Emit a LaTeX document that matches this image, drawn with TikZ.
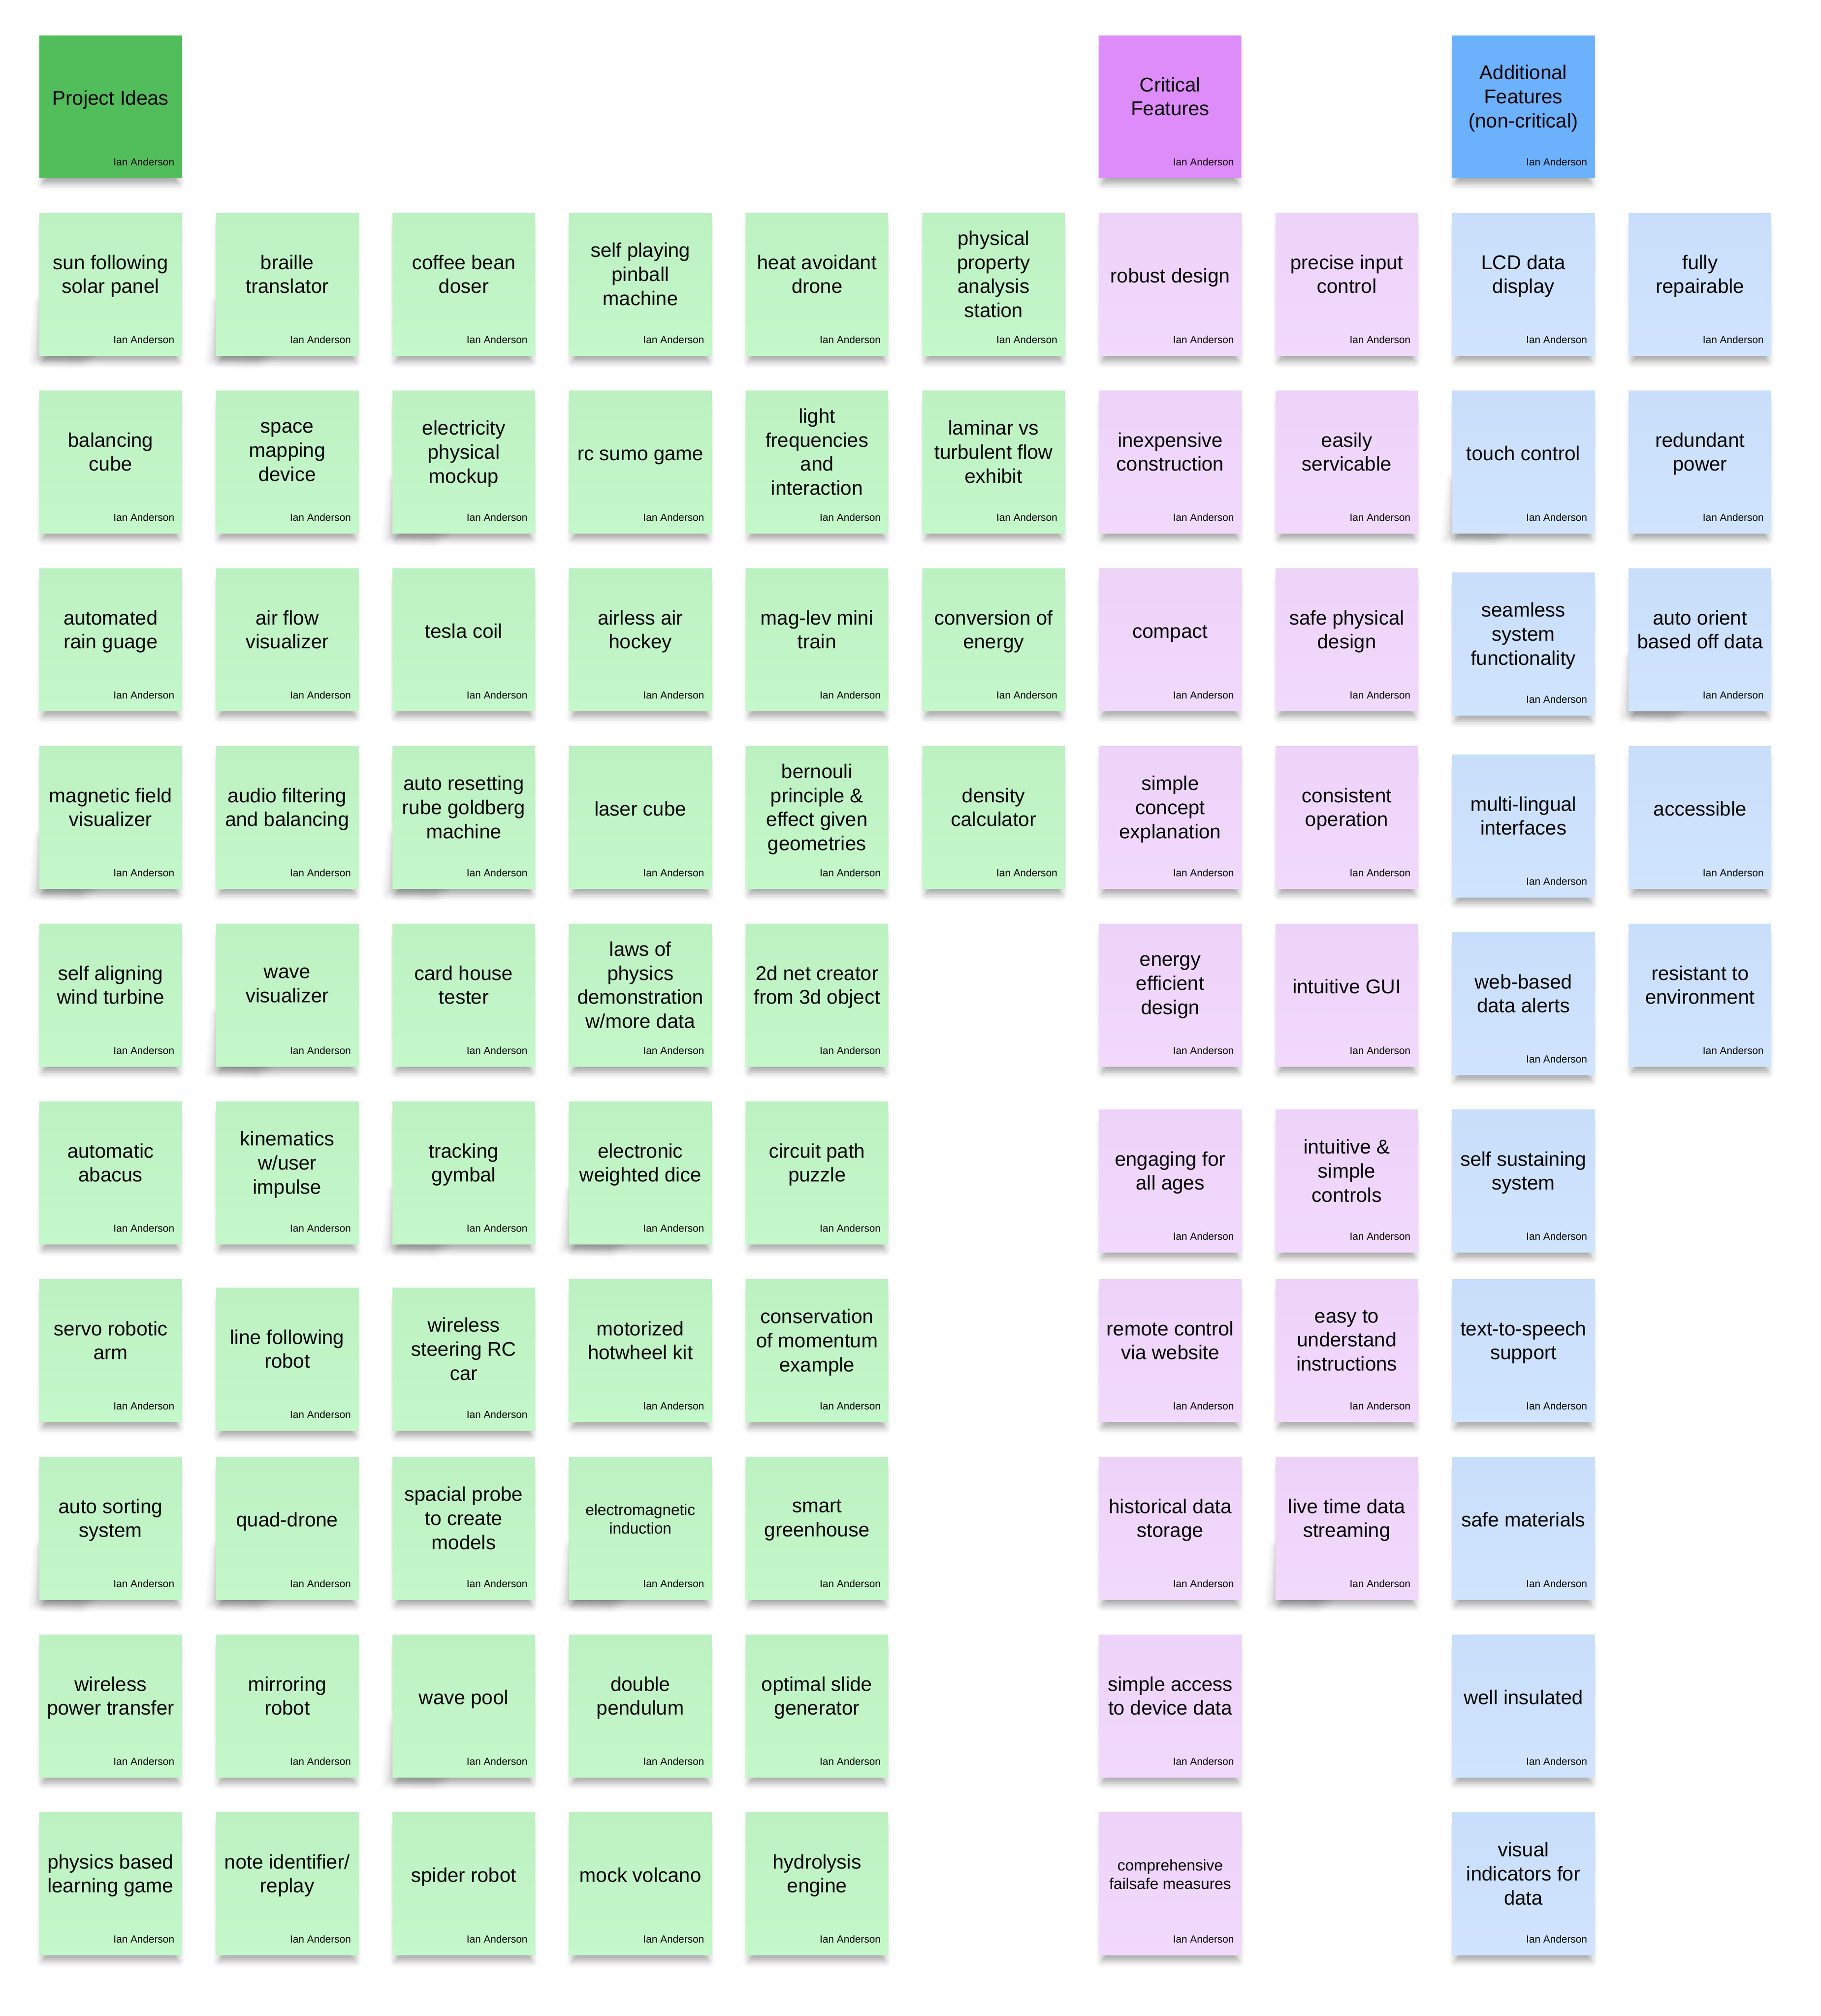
\documentclass[tikz,border=0pt]{standalone}
\usepackage{fontspec}
\setmainfont{Liberation Sans}
\usepackage{tikz}
\usetikzlibrary{shadows.blur, backgrounds}
\definecolor{ideahead}{RGB}{82,189,91}
\definecolor{ideatop}{RGB}{189,241,194}
\definecolor{ideabot}{RGB}{196,247,201}
\definecolor{crithead}{RGB}{222,140,249}
\definecolor{crittop}{RGB}{237,211,248}
\definecolor{critbot}{RGB}{241,217,252}
\definecolor{extrahead}{RGB}{108,177,252}
\definecolor{extratop}{RGB}{201,222,250}
\definecolor{extrabot}{RGB}{208,228,253}
\tikzset{
    sticky/.style = {rectangle, minimum size=75.25pt, inner sep=0pt, anchor=north west,
        blur shadow={shadow xshift=0pt, shadow yshift=-5pt, shadow scale=.95, shadow blur radius=3.5pt, shadow opacity=35}},
    idea-head/.style = {sticky, fill=ideahead},
    crit-head/.style = {sticky, fill=crithead},
    extra-head/.style = {sticky, fill=extrahead},
    idea/.style = {sticky, top color=ideatop, bottom color=ideabot},
    crit/.style = {sticky, top color=crittop, bottom color=critbot},
    extra/.style = {sticky, top color=extratop, bottom color=extrabot},
    sticky-text/.style = {align=center, inner sep=0pt, font=\fontsize{10.5}{12.7}\selectfont,
        execute at begin node=\strut, execute at end node=\strut},
    small-text/.style = {font=\fontsize{8.2}{9.9}\selectfont},
    sticky-author/.style = {anchor=base east, inner sep=0pt, font=\fontsize{5.4}{6.5}\selectfont},
    curl-shadow/.style = {blur shadow={shadow xshift=0pt, shadow yshift=0pt, shadow blur radius=3.5pt, shadow opacity=18}},
}
% #1 text options, #2 name, #3 style, #4 grid position, #5 text
\newcommand{\sticky}[5][]{%
    \node[#3] (#2) at (#4) {};
    \node[sticky-text, #1] (#2-text) at ([yshift=3.6pt]#2.center) {#5};
    \node[sticky-author] (#2-author) at ([xshift=-4pt, yshift=6.75pt]#2.south east) {Ian Anderson};
}
% lifted bottom left corner
\newcommand{\curl}[1]{%
    \begin{scope}[on background layer]
    \path[curl-shadow] ([yshift=28pt]#1.south west) -- ([xshift=-2.5pt, yshift=-2.5pt]#1.south west)
        -- ([xshift=22pt, yshift=-3.5pt]#1.south west) -- ([xshift=28pt]#1.south west) -- cycle;
    \end{scope}
}

\begin{document}
\begin{tikzpicture}[x=93.15pt, y=-93.75pt]
\useasboundingbox (-20.5pt,18.5pt) rectangle ++(960.5pt,-1063.5pt);

% headers
\sticky{ideas}{idea-head}{0,0}{Project Ideas}
\sticky{critical}{crit-head}{6,0}{Critical\\Features}
\sticky{additional}{extra-head}{8,0}{Additional\\Features\\(non-critical)}

% project ideas
\sticky{sun}{idea}{0,1}{sun following\\solar panel}
\sticky{balancing}{idea}{0,2}{balancing\\cube}
\sticky{rain}{idea}{0,3}{automated\\rain guage}
\sticky{magnetic}{idea}{0,4}{magnetic field\\visualizer}
\sticky{turbine}{idea}{0,5}{self aligning\\wind turbine}
\sticky{abacus}{idea}{0,6}{automatic\\abacus}
\sticky{arm}{idea}{0,7}{servo robotic\\arm}
\sticky{sorting}{idea}{0,8}{auto sorting\\system}
\sticky{power}{idea}{0,9}{wireless\\power transfer}
\sticky{game}{idea}{0,10}{physics based\\learning game}

\sticky{braille}{idea}{1,1}{braille\\translator}
\sticky{mapping}{idea}{1,2}{space\\mapping\\device}
\sticky{airflow}{idea}{1,3}{air flow\\visualizer}
\sticky{audio}{idea}{1,4}{audio filtering\\and balancing}
\sticky{wave}{idea}{1,5}{wave\\visualizer}
\sticky{kinematics}{idea}{1,6}{kinematics\\w/user\\impulse}
\sticky{line}{idea, yshift=-4.5pt}{1,7}{line following\\robot}
\sticky{drone}{idea}{1,8}{quad-drone}
\sticky{mirror}{idea}{1,9}{mirroring\\robot}
\sticky{notes}{idea}{1,10}{note identifier/\\replay}

\sticky{coffee}{idea}{2,1}{coffee bean\\doser}
\sticky{mockup}{idea}{2,2}{electricity\\physical\\mockup}
\sticky{tesla}{idea}{2,3}{tesla coil}
\sticky{goldberg}{idea}{2,4}{auto resetting\\rube goldberg\\machine}
\sticky{cards}{idea}{2,5}{card house\\tester}
\sticky{gymbal}{idea}{2,6}{tracking\\gymbal}
\sticky{rccar}{idea, yshift=-4.5pt}{2,7}{wireless\\steering RC\\car}
\sticky{probe}{idea}{2,8}{spacial probe\\to create\\models}
\sticky{pool}{idea}{2,9}{wave pool}
\sticky{spider}{idea}{2,10}{spider robot}

\sticky{pinball}{idea}{3,1}{self playing\\pinball\\machine}
\sticky{sumo}{idea}{3,2}{rc sumo game}
\sticky{hockey}{idea}{3,3}{airless air\\hockey}
\sticky{laser}{idea}{3,4}{laser cube}
\sticky{laws}{idea}{3,5}{laws of\\physics\\demonstration\\w/more data}
\sticky{dice}{idea}{3,6}{electronic\\weighted dice}
\sticky{hotwheel}{idea}{3,7}{motorized\\hotwheel kit}
\sticky[small-text]{induction}{idea}{3,8}{electromagnetic\\induction}
\sticky{pendulum}{idea}{3,9}{double\\pendulum}
\sticky{volcano}{idea}{3,10}{mock volcano}

\sticky{heat}{idea}{4,1}{heat avoidant\\drone}
\sticky{light}{idea}{4,2}{light\\frequencies\\and\\interaction}
\sticky{maglev}{idea}{4,3}{mag-lev mini\\train}
\sticky{bernouli}{idea}{4,4}{bernouli\\principle \&\\effect given\\geometries}
\sticky{net}{idea}{4,5}{2d net creator\\from 3d object}
\sticky{circuit}{idea}{4,6}{circuit path\\puzzle}
\sticky{momentum}{idea}{4,7}{conservation\\of momentum\\example}
\sticky{greenhouse}{idea}{4,8}{smart\\greenhouse}
\sticky{slide}{idea}{4,9}{optimal slide\\generator}
\sticky{hydrolysis}{idea}{4,10}{hydrolysis\\engine}

\sticky{property}{idea}{5,1}{physical\\property\\analysis\\station}
\sticky{flow}{idea}{5,2}{laminar vs\\turbulent flow\\exhibit}
\sticky{energy}{idea}{5,3}{conversion of\\energy}
\sticky{density}{idea}{5,4}{density\\calculator}

% critical features
\sticky{robust}{crit}{6,1}{robust design}
\sticky{inexpensive}{crit}{6,2}{inexpensive\\construction}
\sticky{compact}{crit}{6,3}{compact}
\sticky{concept}{crit}{6,4}{simple\\concept\\explanation}
\sticky{efficient}{crit}{6,5}{energy\\efficient\\design}
\sticky{engaging}{crit, yshift=-4.25pt}{6,6}{engaging for\\all ages}
\sticky{remote}{crit}{6,7}{remote control\\via website}
\sticky{history}{crit}{6,8}{historical data\\storage}
\sticky{access}{crit}{6,9}{simple access\\to device data}
\sticky[small-text]{failsafe}{crit}{6,10}{comprehensive\\failsafe measures}

\sticky{precise}{crit}{7,1}{precise input\\control}
\sticky{servicable}{crit}{7,2}{easily\\servicable}
\sticky{safe}{crit}{7,3}{safe physical\\design}
\sticky{consistent}{crit}{7,4}{consistent\\operation}
\sticky{gui}{crit}{7,5}{intuitive GUI}
\sticky{controls}{crit, yshift=-4.25pt}{7,6}{intuitive \&\\simple\\controls}
\sticky{instructions}{crit}{7,7}{easy to\\understand\\instructions}
\sticky{streaming}{crit}{7,8}{live time data\\streaming}

% additional features
\sticky{lcd}{extra}{8,1}{LCD data\\display}
\sticky{touch}{extra}{8,2}{touch control}
\sticky{seamless}{extra, yshift=-2.25pt}{8,3}{seamless\\system\\functionality}
\sticky{lingual}{extra, yshift=-4.5pt}{8,4}{multi-lingual\\interfaces}
\sticky{alerts}{extra, yshift=-4.5pt}{8,5}{web-based\\data alerts}
\sticky{sustaining}{extra, yshift=-4.25pt}{8,6}{self sustaining\\system}
\sticky{speech}{extra}{8,7}{text-to-speech\\support}
\sticky{materials}{extra}{8,8}{safe materials}
\sticky{insulated}{extra}{8,9}{well insulated}
\sticky{indicators}{extra}{8,10}{visual\\indicators for\\data}

\sticky{repairable}{extra}{9,1}{fully\\repairable}
\sticky{redundant}{extra}{9,2}{redundant\\power}
\sticky{orient}{extra}{9,3}{auto orient\\based off data}
\sticky{accessible}{extra}{9,4}{accessible}
\sticky{resistant}{extra}{9,5}{resistant to\\environment}

% curled corners
\curl{sun} \curl{braille} \curl{mockup} \curl{magnetic} \curl{wave}
\curl{goldberg} \curl{gymbal} \curl{sorting} \curl{drone} \curl{induction}
\curl{pool} \curl{dice} \curl{streaming} \curl{orient} \curl{touch}
\end{tikzpicture}
\end{document}
